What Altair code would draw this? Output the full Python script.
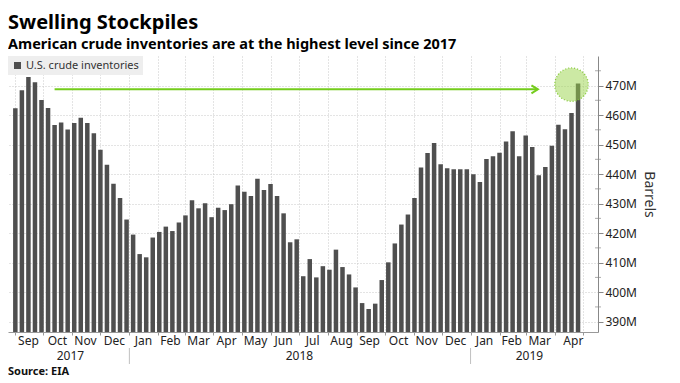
import altair as alt
import pandas as pd

# ---------------- data ----------------
first_week = "2017-09-01"
inventories = [462.3, 468.4, 472.9, 471.1, 465.1, 462.4, 456.6, 457.5, 455.1, 457.3,
               459.1, 457.3, 453.8, 448.2, 443.2, 436.7, 431.9, 424.6, 419.5, 412.9,
               411.8, 418.5, 420.4, 422.2, 420.7, 423.6, 426.0, 431.1, 428.4, 430.1,
               425.4, 428.6, 427.8, 429.8, 436.1, 434.0, 432.6, 438.4, 434.6, 436.6,
               432.6, 426.7, 416.9, 417.9, 405.4, 411.2, 405.0, 408.8, 407.6, 414.4,
               408.5, 406.0, 401.6, 396.3, 394.3, 396.1, 404.1, 410.1, 416.5, 422.9,
               426.3, 431.9, 442.2, 447.1, 450.5, 443.3, 442.0, 441.6, 441.6, 441.6,
               439.9, 437.3, 445.1, 446.0, 447.2, 451.0, 454.5, 446.0, 453.1, 449.2,
               439.6, 442.4, 449.6, 456.7, 455.2, 460.7, 470.7]
series_name = "U.S. crude inventories"

month_label_dates = ["2017-09-15", "2017-10-16", "2017-11-15", "2017-12-16",
                     "2018-01-16", "2018-02-14", "2018-03-16", "2018-04-15",
                     "2018-05-16", "2018-06-15", "2018-07-16", "2018-08-16",
                     "2018-09-15", "2018-10-16", "2018-11-15", "2018-12-16",
                     "2019-01-16", "2019-02-14", "2019-03-16", "2019-04-21"]
month_labels = ["Sep", "Oct", "Nov", "Dec", "Jan", "Feb", "Mar", "Apr", "May", "Jun",
                "Jul", "Aug", "Sep", "Oct", "Nov", "Dec", "Jan", "Feb", "Mar", "Apr"]
year_label_dates = ["2017-10-30", "2018-07-02", "2019-03-05"]
year_labels = ["2017", "2018", "2019"]
year_breaks = ["2018-01-01", "2019-01-01"]

arrow_start = "2017-10-13"
arrow_end = "2019-03-14"
arrow_level = 468.7
highlight_date = "2019-04-19"
highlight_level = 470.3

y_major = [390, 400, 410, 420, 430, 440, 450, 460, 470]
y_minor = [395, 405, 415, 425, 435, 445, 455, 465, 475]
y_min, y_max = 386.5, 480

title_text = "Swelling Stockpiles"
subtitle_text = "American crude inventories are at the highest level since 2017"
source_text = "Source: EIA"

# ---------------- tables ----------------
def iso(d):
    return pd.Timestamp(d).strftime("%Y-%m-%dT00:00:00")

weeks = pd.date_range(first_week, periods=len(inventories), freq="7D")
df = pd.DataFrame({"week": [iso(w) for w in weeks], "value": inventories,
                   "series": series_name})
months_df = pd.DataFrame({"date": [iso(d) for d in month_label_dates], "label": month_labels})
years_df = pd.DataFrame({"date": [iso(d) for d in year_label_dates], "label": year_labels})
breaks_df = pd.DataFrame({"date": [iso(d) for d in year_breaks]})
arrow_df = pd.DataFrame({"start": [iso(arrow_start)], "end": [iso(arrow_end)], "level": [arrow_level]})
hl_df = pd.DataFrame({"date": [iso(highlight_date)], "level": [highlight_level]})
src_df = pd.DataFrame({"text": [source_text]})
minor_df = pd.DataFrame({"level": y_minor})

month_starts = [alt.DateTime(year=int(d.year), month=int(d.month), date=1)
                for d in pd.date_range("2017-09-01", "2019-05-01", freq="MS")]

W, H = 590, 276
FONT = "Noto Sans"
GREEN = "#74cc1c"

x_scale = alt.Scale(domain=[alt.DateTime(year=2017, month=8, date=29, hours=12),
                            alt.DateTime(year=2019, month=5, date=12)])
y_scale = alt.Scale(domain=[y_min, y_max], nice=False, zero=False)

# one shared axis definition, reused by every layer that maps a field on x / y
x_axis = alt.Axis(values=month_starts, labels=False, title=None, tickSize=3,
                  tickColor="#999999", domainColor="#999999",
                  grid=True, gridDash=[1, 2], gridColor="#c8c8c8")
y_axis = alt.Axis(orient="right", values=y_major, title="Barrels",
                  labelExpr="datum.value + 'M'", tickSize=5,
                  grid=True, gridDash=[1, 2], gridColor="#c8c8c8",
                  tickColor="#888888", domainColor="#888888",
                  labelFontSize=12, labelColor="#222222", labelPadding=2,
                  titleFontSize=14, titleFontWeight="normal", titleColor="#333333",
                  titleAngle=90, titlePadding=5)


def X(field):
    return alt.X(field, scale=x_scale, axis=x_axis)


def Y(field):
    return alt.Y(field, scale=y_scale, axis=y_axis)


bars = alt.Chart(df).mark_bar(size=4.5).encode(
    x=X("week:T"),
    y=Y("value:Q"),
    y2=alt.datum(y_min),
    color=alt.Color("series:N", scale=alt.Scale(range=["#4f4f4f"]),
                    legend=alt.Legend(title=None, orient="top-left", offset=0, padding=4,
                                      fillColor="#eeeeee", symbolType="square",
                                      symbolSize=49, symbolStrokeWidth=0,
                                      labelFontSize=11, labelColor="#333333", labelOffset=3)),
)

minor_ticks = alt.Chart(minor_df).mark_tick(orient="horizontal", size=6, thickness=1,
                                            color="#888888").encode(
    x=alt.value(W),
    y=Y("level:Q"),
)

month_text = alt.Chart(months_df).mark_text(baseline="top", fontSize=12, color="#222222").encode(
    x=X("date:T"),
    y=alt.value(H + 4),
    text="label:N",
)

year_text = alt.Chart(years_df).mark_text(baseline="top", fontSize=12, color="#222222").encode(
    x=X("date:T"),
    y=alt.value(H + 19),
    text="label:N",
)

year_rules = alt.Chart(breaks_df).mark_rule(color="#c0c0c0", strokeWidth=1).encode(
    x=X("date:T"),
    y=alt.value(H + 16),
    y2=alt.value(H + 32),
)

arrow_line = alt.Chart(arrow_df).mark_rule(color=GREEN, strokeWidth=2).encode(
    x=X("start:T"),
    x2="end:T",
    y=Y("level:Q"),
)

arrow_head = alt.Chart(arrow_df).mark_point(
    shape="M-1.6,-1L0,0L-1.6,1", filled=False, size=64, strokeWidth=2, color=GREEN, opacity=1
).encode(
    x=X("end:T"),
    y=Y("level:Q"),
)

highlight = alt.Chart(hl_df).mark_point(
    shape="circle", filled=True, size=1120, fill="#9ad34a", fillOpacity=0.5,
    stroke="#86c93a", strokeWidth=1.3, strokeDash=[1, 2], strokeOpacity=1, opacity=1
).encode(
    x=X("date:T"),
    y=Y("level:Q"),
)

source = alt.Chart(src_df).mark_text(align="left", baseline="top", fontSize=11,
                                     fontWeight="bold", color="#111111").encode(
    x=alt.value(0),
    y=alt.value(H + 34),
    text="text:N",
)

chart = alt.layer(
    bars, minor_ticks, arrow_line, arrow_head, highlight, month_text, year_text, year_rules, source
).properties(
    width=W, height=H, padding={"top": 4, "left": 0, "right": 8, "bottom": 0},
    title=alt.TitleParams(text=title_text, subtitle=subtitle_text, anchor="start",
                          fontSize=20, fontWeight="bold", color="#000000",
                          subtitleFontSize=14.5, subtitleFontWeight="bold",
                          subtitleColor="#000000", subtitlePadding=5, offset=5,
                          font=FONT, subtitleFont=FONT),
).configure(font=FONT).configure_view(stroke=None)

chart.save("out.html", embed_options={"renderer": "svg", "actions": False})
